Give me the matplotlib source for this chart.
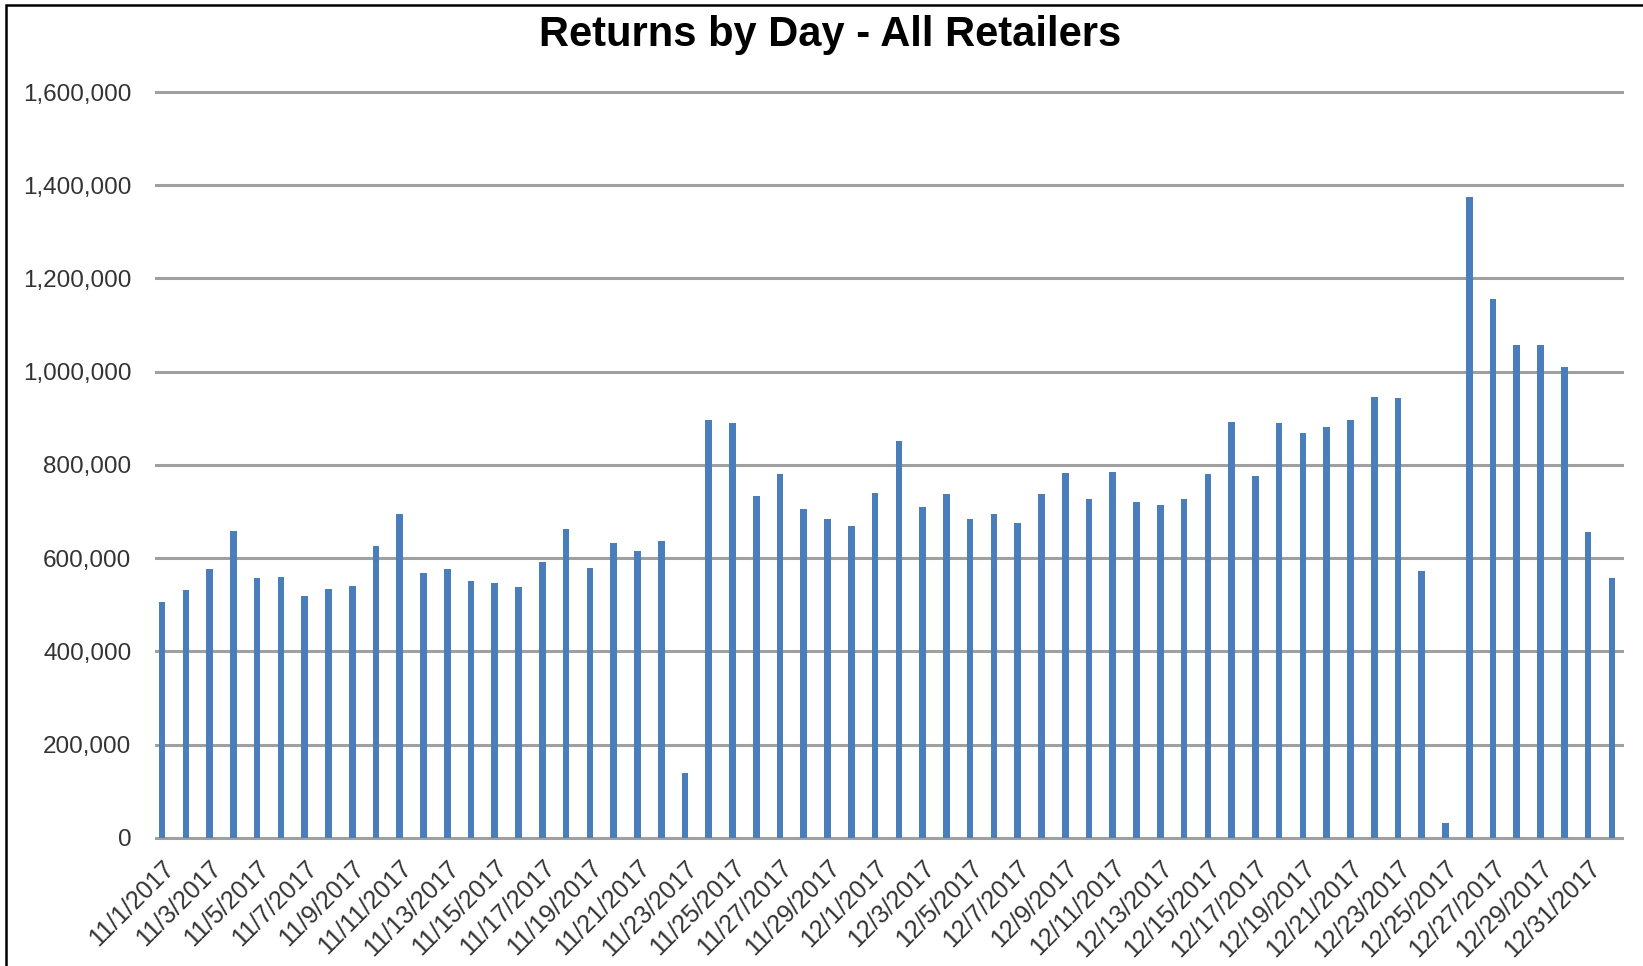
import matplotlib
matplotlib.use("Agg")
import matplotlib.pyplot as plt
from matplotlib import font_manager
from matplotlib.patches import Rectangle
from matplotlib.ticker import FuncFormatter
import pandas as pd

# daily returns, 11/1/2017 .. 1/1/2018
fechas = pd.date_range("2017-11-01", "2018-01-01", freq="D")
devoluciones = [
    507000, 532000, 576000, 658000, 557000, 559000, 519000, 534000, 541000, 626000,
    694000, 568000, 576000, 552000, 546000, 538000, 591000, 663000, 579000, 633000,
    616000, 636000, 140000, 897000, 891000, 734000, 781000, 705000, 684000, 670000,
    739000, 851000, 710000, 737000, 684000, 694000, 676000, 737000, 782000, 728000,
    786000, 720000, 715000, 726000, 781000, 892000, 777000, 891000, 868000, 882000,
    897000, 946000, 943000, 572000, 33000, 1375000, 1156000, 1057000, 1057000, 1011000,
    657000, 557000,
]
etiquetas = [f"{d.month}/{d.day}/{d.year}" for d in fechas]

nombres = {f.name for f in font_manager.fontManager.ttflist}
fuente = "Liberation Sans Narrow" if "Liberation Sans Narrow" in nombres else "Liberation Sans"

fig = plt.figure(figsize=(16.43, 9.66), dpi=100)
ax = fig.add_axes([0.0943, 0.1284, 0.894, 0.7805])

x = list(range(len(devoluciones)))
ax.bar(x, devoluciones, width=0.28, color="#4a7ebb", zorder=3)

ax.set_ylim(-8600, 1608600)
ax.set_xlim(-0.3, len(x) - 0.5)
ax.set_yticks(range(0, 1600001, 200000))
ax.yaxis.set_major_formatter(FuncFormatter(lambda v, p: f"{int(v):,}"))
ax.grid(axis="y", color="#a0a0a0", linewidth=2.2, zorder=0)

ax.set_xticks(x[::2])
ax.set_xticklabels(etiquetas[::2], rotation=45, ha="right", rotation_mode="anchor",
                   fontsize=18, family=fuente, color="#333333")
for lab in ax.get_yticklabels():
    lab.set_family(fuente)
    lab.set_fontsize(17.5)
    lab.set_color("#333333")

ax.tick_params(axis="both", length=0)
ax.tick_params(axis="y", pad=17)
ax.tick_params(axis="x", pad=10)
for s in ax.spines.values():
    s.set_visible(False)

fig.text(0.505, 0.964, "Returns by Day - All Retailers", ha="center", va="center",
         fontsize=30, fontweight="bold", family=fuente, color="black")

# borde del area del grafico (cortado a la derecha y abajo)
fig.patches.append(Rectangle((0.0037, -0.1), 1.2, 1.0948, transform=fig.transFigure,
                             fill=False, edgecolor="black", linewidth=1.8))

fig.savefig("out.png", dpi=100)
